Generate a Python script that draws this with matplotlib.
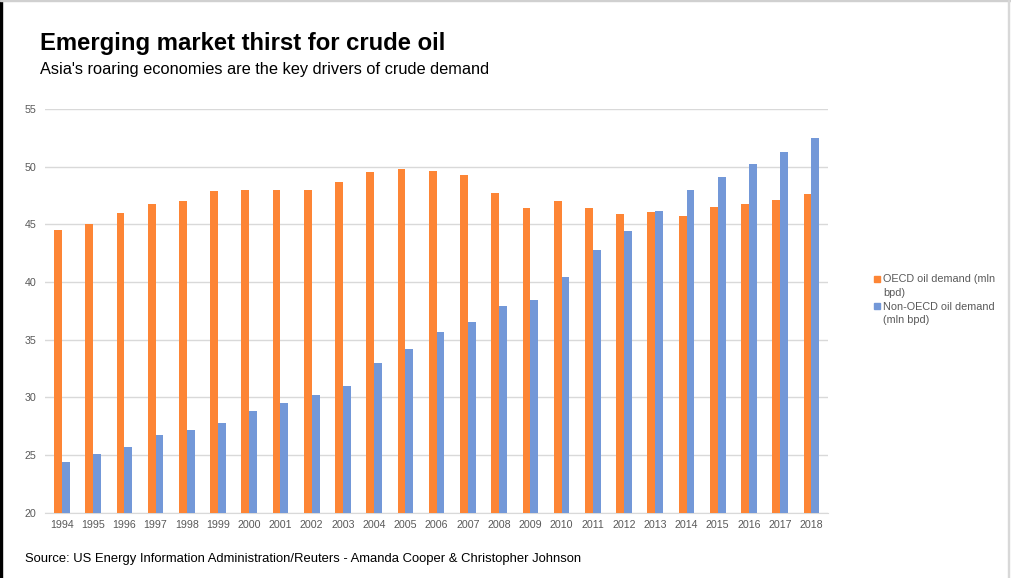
import numpy as np
import matplotlib
matplotlib.use("Agg")
import matplotlib.pyplot as plt
from matplotlib.lines import Line2D
from matplotlib.patches import Rectangle

plt.rcParams['font.family'] = ['Liberation Sans', 'DejaVu Sans']

# data (mln bpd)
years = [str(y) for y in range(1994, 2019)]
oecd = [44.5, 45.0, 46.0, 46.8, 47.0, 47.9, 48.0, 48.0, 48.0, 48.7,
        49.5, 49.8, 49.6, 49.3, 47.7, 46.4, 47.0, 46.4, 45.9, 46.1,
        45.7, 46.5, 46.8, 47.1, 47.6]
non_oecd = [24.4, 25.1, 25.7, 26.7, 27.2, 27.8, 28.8, 29.5, 30.2, 31.0,
            33.0, 34.2, 35.7, 36.5, 37.9, 38.4, 40.4, 42.8, 44.4, 46.2,
            48.0, 49.1, 50.2, 51.3, 52.5]
y_ticks = [20, 25, 30, 35, 40, 45, 50, 55]
series_labels = ['OECD oil demand (mln\nbpd)', 'Non-OECD oil demand\n(mln bpd)']

c_oecd = '#FD8535'
c_non = '#7398D8'
grey_txt = '#595959'

fig = plt.figure(figsize=(10.11, 5.78), dpi=100)
ax = fig.add_axes([45/1011, 1-512.7/578, 783/1011, (512.7-109)/578])

x = np.arange(len(years))
w = 0.25
ax.bar(x - w/2, [v - 20 for v in oecd], width=w, bottom=20, color=c_oecd, zorder=3)
ax.bar(x + w/2, [v - 20 for v in non_oecd], width=w, bottom=20, color=c_non, zorder=3)

ax.set_xlim(-0.54, 24.53)
ax.set_ylim(20, 55)
ax.set_yticks(y_ticks)
ax.set_xticks(x)
ax.set_xticklabels(years)
ax.tick_params(axis='both', length=0, labelsize=7.7, labelcolor=grey_txt)
ax.tick_params(axis='y', pad=6)
ax.tick_params(axis='x', pad=5)
ax.yaxis.grid(True, color='#D9D9D9', linewidth=1, zorder=0)
for s in ['top', 'right', 'left']:
    ax.spines[s].set_visible(False)
ax.spines['bottom'].set_color('#D9D9D9')
ax.set_axisbelow(True)

# titles
fig.text(40/1011, 1-50/578, 'Emerging market thirst for crude oil',
         fontsize=17.2, fontweight='bold', color='black', va='baseline')
fig.text(40/1011, 1-74/578, "Asia's roaring economies are the key drivers of crude demand",
         fontsize=11.8, color='black', va='baseline')
fig.text(25/1011, 1-562/578,
         'Source: US Energy Information Administration/Reuters - Amanda Cooper & Christopher Johnson',
         fontsize=9.4, color='black', va='baseline')

# legend, marker lined up with the first text line like Excel does
for lab, col, ytop in zip(series_labels, [c_oecd, c_non], [279, 306]):
    fig.add_artist(Line2D([877/1011], [1-ytop/578], marker='s', markersize=4,
                          color=col, linestyle='none', transform=fig.transFigure))
    fig.text(883/1011, 1-(ytop-4.5)/578, lab, fontsize=7.8, color=grey_txt,
             va='top', ha='left', linespacing=1.45)

# frame edges like the screenshot
fig.patches.append(Rectangle((0, 0), 2/1011, 1, transform=fig.transFigure, color='black'))
fig.patches.append(Rectangle((0, 1-1/578), 1, 1/578, transform=fig.transFigure, color='#D0D0D0'))
fig.patches.append(Rectangle((1008/1011, 0), 1/1011, 1, transform=fig.transFigure, color='#D8D8D8'))

fig.savefig('out.png', dpi=100)
